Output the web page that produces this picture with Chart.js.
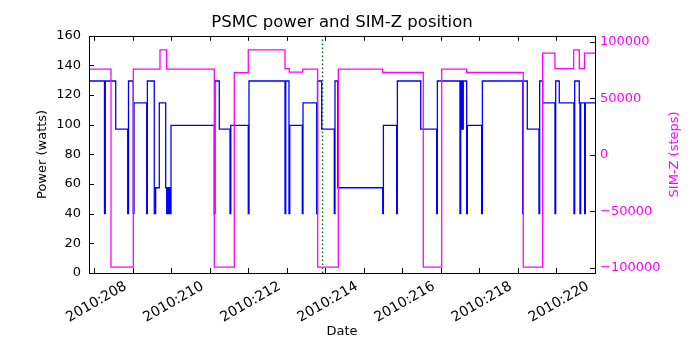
<!DOCTYPE html>
<html>
<head>
<meta charset="utf-8">
<title>PSMC power and SIM-Z position</title>
<script src="https://cdn.jsdelivr.net/npm/chart.js@4.4.0/dist/chart.umd.min.js"></script>
<style>
  html, body { margin: 0; padding: 0; background: #fff; }
  canvas { display: block; }
</style>
</head>
<body>
<canvas id="chart" width="700" height="350"></canvas>
<script>
// 2010 day-of-year where each step starts, and the value held from there on
const powerTimes = [
  206.870, 207.272, 207.293, 207.563, 207.874, 207.895, 208.018, 208.038,
  208.367, 208.385, 208.564, 208.600, 208.694, 208.860, 208.886, 208.904,
  208.928, 208.946, 208.964, 208.998, 210.121, 210.139, 210.251, 210.529,
  210.549, 211.003, 211.022, 211.956, 211.976, 212.059, 212.080, 212.405,
  212.423, 212.778, 212.799, 212.908, 213.235, 213.253, 213.323, 214.491,
  214.509, 214.854, 214.872, 215.477, 215.892, 215.910, 216.496, 216.515,
  216.548, 216.582, 216.670, 216.688, 217.059, 217.078, 218.123, 218.141,
  218.243, 218.546, 218.564, 218.642, 218.961, 218.980, 219.073, 219.454,
  219.473, 219.592, 219.610, 219.628, 219.732, 219.750, 220.000
];
const powerWatts = [
  129.5, 40, 129.5, 97, 40, 129.5, 40, 114.7,
  40, 129.5, 40, 57.5, 114.7, 57.5, 40, 57.5,
  40, 57.5, 40, 99.6, 40, 129.5, 97, 40,
  99.6, 40, 129.5, 40, 129.5, 40, 99.6, 40,
  114.7, 40, 129.5, 97, 40, 129.5, 57.5, 40,
  99.6, 40, 129.5, 97, 40, 129.5, 40, 129.5,
  97, 129.5, 40, 99.6, 40, 129.5, 40, 129.5,
  97, 40, 129.5, 114.7, 40, 129.5, 114.7, 40,
  129.5, 114.7, 40, 114.7, 40, 114.7, 114.7
];

const simzTimes = [
  206.870, 207.441, 208.020, 208.712, 208.886, 210.121, 210.640, 211.003,
  211.956, 212.067, 212.415, 212.804, 213.339, 214.491, 215.544, 216.022,
  216.670, 218.139, 218.642, 218.961, 219.447, 219.592, 219.727, 220.000
];
const simzSteps = [
  75800, -99500, 75800, 92900, 75800, -99500, 72700, 92900,
  76300, 73200, 75800, -99500, 75800, 72800, -99500, 75800,
  72800, -99500, 90000, 76300, 92900, 76300, 90000, 90000
];

const markerTime = 212.93;

const dayTicks = [207, 208, 209, 210, 211, 212, 213, 214, 215, 216, 217, 218, 219, 220];
const powerTicks = [0, 20, 40, 60, 80, 100, 120, 140, 160];
const simzTicks = [-100000, -50000, 0, 50000, 100000];

const BLUE = '#0000ff';
const MAGENTA = '#ff00ff';
const GREEN = '#008000';

Chart.defaults.font.family = '"DejaVu Sans", sans-serif';
Chart.defaults.font.size = 13;
Chart.defaults.color = '#000';

const toPoints = (xs, ys) => xs.map((x, i) => ({ x: x, y: ys[i] }));

// inward tick marks on all four spines, the frame, and the right-hand axis title
const frameTicks = {
  id: 'frameTicks',
  afterDatasetsDraw(chart) {
    const { ctx, chartArea: a, scales } = chart;
    const len = 5;
    ctx.save();
    ctx.strokeStyle = '#000';
    ctx.lineWidth = 1;
    ctx.beginPath();
    scales.x.ticks.forEach(t => {
      const px = Math.round(scales.x.getPixelForValue(t.value)) + 0.5;
      ctx.moveTo(px, a.bottom); ctx.lineTo(px, a.bottom - len);
      ctx.moveTo(px, a.top); ctx.lineTo(px, a.top + len);
    });
    scales.y.ticks.forEach(t => {
      const py = Math.round(scales.y.getPixelForValue(t.value)) + 0.5;
      ctx.moveTo(a.left, py); ctx.lineTo(a.left + len, py);
    });
    scales.y2.ticks.forEach(t => {
      const py = Math.round(scales.y2.getPixelForValue(t.value)) + 0.5;
      ctx.moveTo(a.right, py); ctx.lineTo(a.right - len, py);
    });
    ctx.stroke();
    ctx.strokeRect(Math.round(a.left) + 0.5, Math.round(a.top) + 0.5,
      Math.round(a.right - a.left), Math.round(a.bottom - a.top));

    ctx.translate(675, (a.top + a.bottom) / 2);
    ctx.rotate(-Math.PI / 2);
    ctx.fillStyle = MAGENTA;
    ctx.font = '13px "DejaVu Sans", sans-serif';
    ctx.textAlign = 'center';
    ctx.textBaseline = 'middle';
    ctx.fillText('SIM-Z (steps)', 0, 0);
    ctx.restore();
  }
};

const ctx = document.getElementById('chart').getContext('2d');
const chart = new Chart(ctx, {
  type: 'line',
  data: {
    datasets: [{
      label: 'SIM-Z',
      data: toPoints(simzTimes, simzSteps),
      yAxisID: 'y2',
      borderColor: MAGENTA,
      borderWidth: 1.3,
      stepped: 'before',
      pointRadius: 0,
      fill: false,
      order: 0
    }, {
      label: 'PSMC power',
      data: toPoints(powerTimes, powerWatts),
      yAxisID: 'y',
      borderColor: BLUE,
      borderWidth: 1.3,
      stepped: 'before',
      pointRadius: 0,
      fill: false,
      order: 1
    }, {
      label: 'now',
      data: [{ x: markerTime, y: 0 }, { x: markerTime, y: 160 }],
      yAxisID: 'y',
      borderColor: GREEN,
      borderWidth: 1.5,
      borderDash: [1.5, 2.5],
      pointRadius: 0,
      fill: false,
      order: 2
    }]
  },
  options: {
    responsive: false,
    animation: false,
    devicePixelRatio: 1,
    layout: { padding: { left: 0, right: 16, top: 0, bottom: 0 } },
    plugins: {
      legend: { display: false },
      tooltip: { enabled: false },
      title: {
        display: true,
        text: 'PSMC power and SIM-Z position',
        font: { size: 16.5, weight: 'normal' },
        color: '#000',
        padding: { top: 13, bottom: 3 }
      }
    },
    scales: {
      x: {
        type: 'linear',
        min: 206.87,
        max: 220,
        grid: { display: false, drawTicks: false },
        border: { display: false },
        afterBuildTicks: s => { s.ticks = dayTicks.map(v => ({ value: v })); },
        afterFit: s => { s.height = 77; },
        ticks: {
          autoSkip: false,
          minRotation: 30,
          maxRotation: 30,
          padding: 5,
          labelOffset: -7,
          font: { size: 14 },
          callback: v => (v % 2 === 0 ? '2010:' + v : '')
        },
        title: { display: true, text: 'Date', padding: { top: 0, bottom: 11 } }
      },
      y: {
        position: 'left',
        min: 0,
        max: 160,
        grid: { display: false, drawTicks: false },
        border: { display: false },
        afterBuildTicks: s => { s.ticks = powerTicks.map(v => ({ value: v })); },
        afterFit: s => { s.width = 89; },
        ticks: { padding: 8 },
        title: { display: true, text: 'Power (watts)', padding: { top: 35, bottom: 0 } }
      },
      y2: {
        position: 'right',
        min: -104700,
        max: 105300,
        grid: { display: false, drawTicks: false },
        border: { display: false },
        afterBuildTicks: s => { s.ticks = simzTicks.map(v => ({ value: v })); },
        afterFit: s => { s.width = 89; },
        ticks: {
          padding: 5,
          color: MAGENTA,
          callback: v => (v < 0 ? '\u2212' + Math.abs(v) : String(v))
        }
      }
    }
  },
  plugins: [frameTicks]
});
</script>
</body>
</html>
